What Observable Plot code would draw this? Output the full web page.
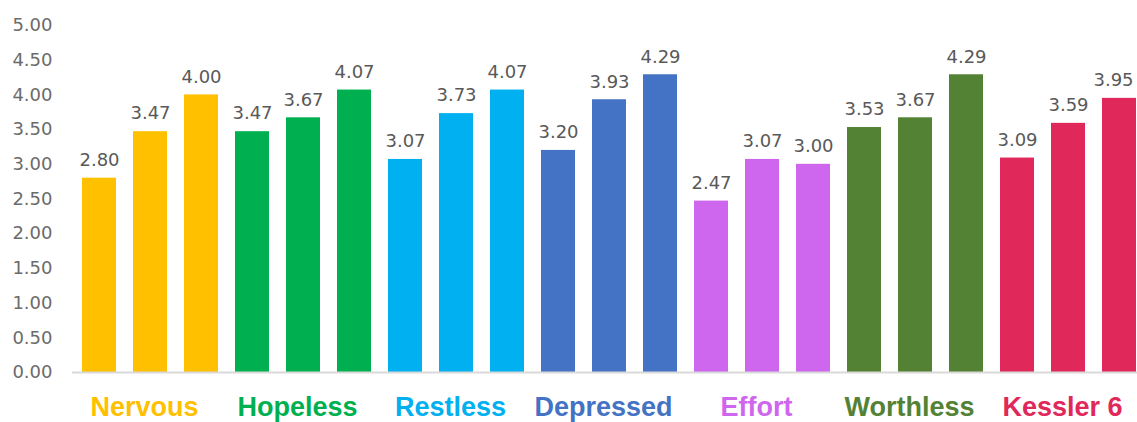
<!DOCTYPE html>
<html>
<head>
<meta charset="utf-8">
<script src="https://cdn.jsdelivr.net/npm/d3@7"></script>
<script src="https://cdn.jsdelivr.net/npm/@observablehq/plot@0.6"></script>
<style>
  html, body { margin: 0; padding: 0; background: #fff; overflow: hidden; }
  #chart svg { display: block; }
</style>
</head>
<body>
<div id="chart"></div>
<script>
const groups = ["Nervous", "Hopeless", "Restless", "Depressed", "Effort", "Worthless", "Kessler 6"];
const groupColors = ["#FFC000", "#00B050", "#00B0F0", "#4472C4", "#CF66EE", "#548235", "#E0285A"];
const values = [
  [2.80, 3.47, 4.00],
  [3.47, 3.67, 4.07],
  [3.07, 3.73, 4.07],
  [3.20, 3.93, 4.29],
  [2.47, 3.07, 3.00],
  [3.53, 3.67, 4.29],
  [3.09, 3.59, 3.95]
];
const yTicks = [0, 0.5, 1, 1.5, 2, 2.5, 3, 3.5, 4, 4.5, 5];

const data = [];
groups.forEach((g, gi) => {
  values[gi].forEach((v, i) => {
    data.push({key: `${g}-${i}`, group: g, idx: i, value: v, color: groupColors[gi]});
  });
});
const keys = data.map(d => d.key);
const middles = groups.map((g, gi) => ({group: g, key: `${g}-1`, color: groupColors[gi]}));
const labelsMain = data.slice(0, -1);
const labelsLast = data.slice(-1);

const valueText = (arr, dx) => Plot.text(arr, {
  x: "key", y: "value",
  text: d => d.value.toFixed(2),
  dy: -18,
  dx,
  fontSize: 18,
  fontFamily: "DejaVu Sans",
  fill: "#595959"
});

const chart = Plot.plot({
  width: 1137,
  height: 422,
  marginLeft: 72,
  marginRight: 0,
  marginTop: 25,
  marginBottom: 50,
  style: {background: "#fff", overflow: "hidden"},
  x: {domain: keys, range: [72, 1146], paddingInner: 0.33, paddingOuter: 0.18, axis: null},
  y: {domain: [0, 5], axis: null},
  marks: [
    Plot.axisY({
      ticks: yTicks,
      tickSize: 0,
      tickPadding: 0,
      tickFormat: d => d.toFixed(2),
      textAnchor: "end",
      dx: -20,
      fontSize: 18,
      fontFamily: "DejaVu Sans",
      fill: "#6b6b6b",
      label: null
    }),
    Plot.barY(data, {x: "key", y: "value", fill: "color"}),
    Plot.ruleY([0], {stroke: "#d9d9d9", strokeWidth: 2}),
    valueText(labelsMain, 0),
    valueText(labelsLast, -6),
    Plot.text(middles, {
      x: "key",
      y: 0,
      text: "group",
      fill: "color",
      dx: -6,
      dy: 35,
      lineAnchor: "middle",
      fontSize: 27,
      fontWeight: "bold",
      fontFamily: "Liberation Sans"
    })
  ]
});
document.getElementById("chart").appendChild(chart);
</script>
</body>
</html>
